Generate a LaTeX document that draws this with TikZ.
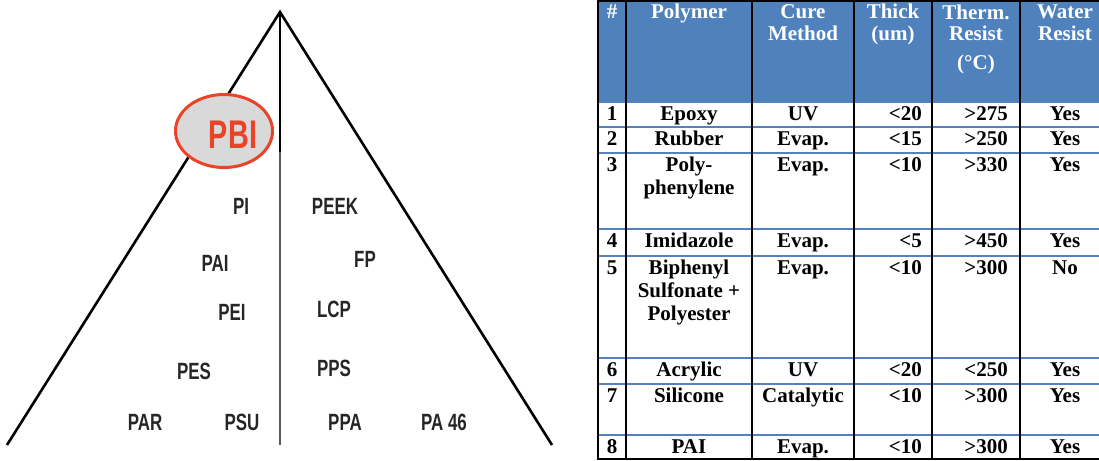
\documentclass[tikz,border=0pt]{standalone}
\usepackage{fontspec}
\setmainfont{Liberation Serif}
\newfontfamily\trifont{Liberation Sans}[FakeStretch=0.72]
\usetikzlibrary{shapes.geometric}
\definecolor{hdrblue}{RGB}{79,129,189}
\definecolor{rulblue}{RGB}{84,130,190}
\definecolor{pbired}{RGB}{234,68,40}
\definecolor{pbigrey}{RGB}{217,217,217}
\tikzset{
  polylbl/.style={font=\trifont\bfseries\fontsize{23.5}{24}\selectfont,text=black!85,inner sep=0pt},
  hdrcell/.style={font=\bfseries\fontsize{21}{22}\selectfont,text=white,align=center,anchor=base,inner sep=0pt},
  cell/.style={font=\bfseries\fontsize{21}{23}\selectfont,align=center,anchor=base,inner sep=0pt},
  rcell/.style={cell,anchor=base east},
  hrule/.style={rulblue,line width=2pt},
  vrule/.style={black,line width=2.6pt}
}
\begin{document}
\begin{tikzpicture}[x=1pt,y=-1pt]
\useasboundingbox (0,0) rectangle (1099,460);
% ---------- polymer triangle ----------
\coordinate (apex) at (280,12);
\coordinate (baseL) at (7,445);
\coordinate (baseR) at (552,445);
\coordinate (baseM) at (280,445);
\coordinate (splitM) at (280,152);
\draw[line width=2.6pt,line join=miter] (baseL) -- (apex) -- (baseR);
\draw[line width=2.6pt] (apex) -- (splitM);
\draw[line width=2.2pt,black!65] (splitM) -- (baseM);
\node[ellipse,draw=pbired,fill=pbigrey,line width=3pt,minimum width=97pt,minimum height=73pt,inner sep=0pt] (pbi) at (224,131) {};
\node[font=\trifont\bfseries\fontsize{40}{40}\selectfont,text=pbired,inner sep=0pt] (pbitext) at (233,135) {PBI};
\foreach \x/\y/\lb/\nm in {241/206/PI/pi, 335/206/PEEK/peek, 215/263/PAI/pai, 365/259/FP/fp,
                           232/312/PEI/pei, 334/309/LCP/lcp, 194/371/PES/pes, 334/368/PPS/pps,
                           145/422/PAR/par, 242/422/PSU/psu, 345/422/PPA/ppa, 444/422/{PA 46}/pa}{
  \node[polylbl] (\nm) at (\x,\y) {\lb};
}
% ---------- coating table ----------
\begin{scope}
\clip (0,0) rectangle (1099,460);
\fill[hdrblue] (598,1) rectangle (1110,101);
\foreach \yr in {102,127,153,229,256,358,384,435}
  \draw[hrule] (598,\yr) -- (1110,\yr);
\draw[vrule] (598,1) -- (1110,1);
\draw[vrule] (598,459) -- (1110,459);
\foreach \xr in {598,626,752,854,932,1020}
  \draw[vrule] (\xr,0) -- (\xr,460);
\end{scope}
% base anchor sits on the last line, so multi-line cells go lower
\node[hdrcell] (hnum) at (612,19) {\#};
\node[hdrcell] (hpoly) at (689,19) {Polymer};
\node[hdrcell] (hcure) at (803,41) {Cure\\Method};
\node[hdrcell] (hthick) at (893,41) {Thick\\(um)};
\node[hdrcell] (htherm) at (976,70) {Therm.\\Resist\\[7pt](°C)};
\node[hdrcell] (hwater) at (1065,41) {Water\\Resist};
\foreach \n/\top/\nl/\poly/\cure/\thick/\therm/\water in {
    1/102/0/Epoxy/UV/{<20}/{>275}/Yes,
    2/127/0/Rubber/Evap./{<15}/{>250}/Yes,
    3/153/1/{Poly-\\phenylene}/Evap./{<10}/{>330}/Yes,
    4/229/0/Imidazole/Evap./{<5}/{>450}/Yes,
    5/256/2/{Biphenyl\\Sulfonate +\\Polyester}/Evap./{<10}/{>300}/No,
    6/358/0/Acrylic/UV/{<20}/{<250}/Yes,
    7/384/0/Silicone/Catalytic/{<10}/{>300}/Yes,
    8/435/0/PAI/Evap./{<10}/{>300}/Yes}{
  \node[cell] (num\n) at (612,\top+18) {\n};
  \node[cell] (poly\n) at (689,\top+18+23*\nl) {\poly};
  \node[cell] (cure\n) at (803,\top+18) {\cure};
  \node[rcell] (thick\n) at (922,\top+18) {\thick};
  \node[rcell] (therm\n) at (1008,\top+18) {\therm};
  \node[cell] (water\n) at (1065,\top+18) {\water};
}
\end{tikzpicture}
\end{document}
